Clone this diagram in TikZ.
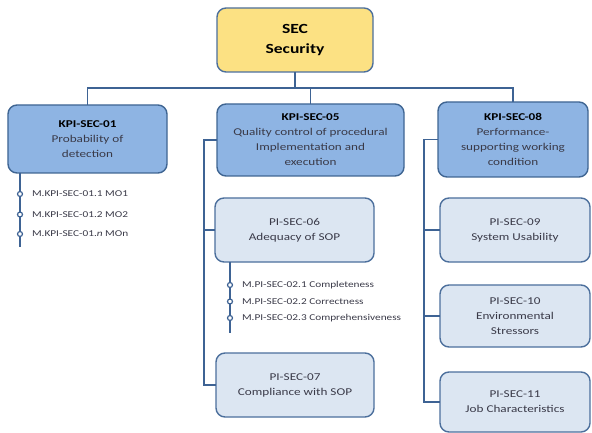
\documentclass[tikz,border=0pt]{standalone}
\usepackage{fontspec}
\setmainfont[FakeStretch=1.26]{Carlito}
\definecolor{linkblue}{HTML}{3E6394}
\definecolor{kpifill}{HTML}{8EB4E3}
\definecolor{kpiedge}{HTML}{3F6592}
\definecolor{pifill}{HTML}{DCE6F2}
\definecolor{piedge}{HTML}{4C6F9C}
\definecolor{topfill}{HTML}{FCE183}
\definecolor{txtgray}{HTML}{3A3A48}
\tikzset{
  every node/.style={inner sep=0pt, outer sep=0pt},
  base/.style={draw, line width=1.4pt, rounded corners=9pt, align=center,
    font=\fontsize{10.5}{15}\selectfont, text=txtgray},
  topbox/.style={base, fill=topfill, draw=piedge, text=black,
    font=\fontsize{14}{21}\selectfont\bfseries},
  kpibox/.style={base, fill=kpifill, draw=kpiedge},
  pibox/.style={base, fill=pifill, draw=piedge},
  link/.style={draw=linkblue, line width=1.8pt},
  leg/.style={draw=linkblue, line width=1.4pt},
  dot/.style={circle, draw=linkblue, line width=1.2pt, fill=white, minimum size=5pt},
  item/.style={anchor=west, font=\fontsize{9}{10}\selectfont, text=txtgray}
}
\begin{document}
\begin{tikzpicture}[x=1bp, y=-1bp]
\useasboundingbox (0,0) rectangle (592,433);

% top node
\node[topbox, minimum width=156bp, minimum height=64bp] (sec) at (295,40) {SEC\\Security};

% key performance indicators
\node[kpibox, minimum width=159bp, minimum height=68bp] (kpi01) at (87.5,139)
  {{\bfseries\color{black}KPI-SEC-01}\\Probability of\\detection};
\node[kpibox, minimum width=187bp, minimum height=72bp] (kpi05) at (310.5,140)
  {{\bfseries\color{black}KPI-SEC-05}\\Quality control of procedural\\Implementation and\\execution};
\node[kpibox, minimum width=150bp, minimum height=75bp] (kpi08) at (513,139.5)
  {{\bfseries\color{black}KPI-SEC-08}\\Performance-\\supporting working\\condition};

% performance indicators
\node[pibox, minimum width=159bp, minimum height=64bp] (pi06) at (294.5,230)
  {PI-SEC-06\\Adequacy of SOP};
\node[pibox, minimum width=158bp, minimum height=64bp] (pi07) at (295,385)
  {PI-SEC-07\\Compliance with SOP};
\node[pibox, minimum width=150bp, minimum height=64bp] (pi09) at (515,230)
  {PI-SEC-09\\System Usability};
\node[pibox, minimum width=150bp, minimum height=62bp] (pi10) at (515,316)
  {PI-SEC-10\\Environmental\\Stressors};
\node[pibox, minimum width=150bp, minimum height=60bp] (pi11) at (515,402)
  {PI-SEC-11\\Job Characteristics};

% tree connectors
\coordinate (bus) at (295,88);
\coordinate (s05) at (204,0);
\coordinate (s08) at (424,0);
\draw[link] (sec.south) -- (bus);
\draw[link] (kpi01.north) |- (bus) -| (kpi08.north);
\draw[link] (kpi05.north) -- (kpi05.north |- bus);
\draw[link] (kpi05.west) -| (s05 |- pi07.west) -- (pi07.west);
\draw[link] (pi06.west) -- (s05 |- pi06.west);
\draw[link] (kpi08.west) -| (s08 |- pi11.west) -- (pi11.west);
\draw[link] (pi09.west) -- (s08 |- pi09.west);
\draw[link] (pi10.west) -- (s08 |- pi10.west);

% measures under KPI-SEC-01
\coordinate (l01) at (20,247);
\draw[leg] (kpi01.south -| l01) -- (l01);
\node[dot] (d011) at (20,194) {};
\node[dot] (d012) at (20,214.5) {};
\node[dot] (d013) at (20,234) {};
\node[item] (m011) at (32,194) {M.KPI-SEC-01.1 MO1};
\node[item] (m012) at (32,214.5) {M.KPI-SEC-01.2 MO2};
\node[item] (m013) at (32,234) {M.KPI-SEC-01.\textit{n} MOn};

% measures under PI-SEC-06
\coordinate (l06) at (230,333);
\draw[leg] (pi06.south -| l06) -- (l06);
\node[dot] (d061) at (230,285) {};
\node[dot] (d062) at (230,301.5) {};
\node[dot] (d063) at (230,318) {};
\node[item] (m061) at (242,285) {M.PI-SEC-02.1 Completeness};
\node[item] (m062) at (242,301.5) {M.PI-SEC-02.2 Correctness};
\node[item] (m063) at (242,318) {M.PI-SEC-02.3 Comprehensiveness};
\end{tikzpicture}
\end{document}
